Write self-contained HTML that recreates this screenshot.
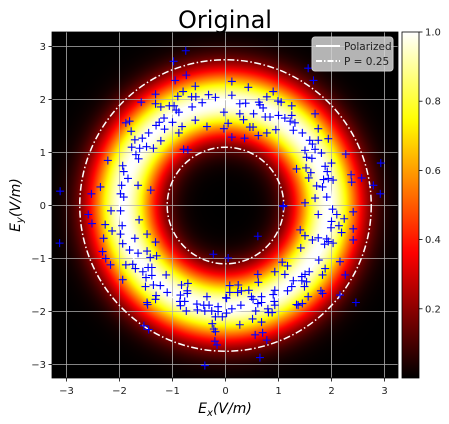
<!DOCTYPE html>
<html><head><meta charset="utf-8"><style>
body{margin:0;background:#fff;width:449px;height:424px;overflow:hidden}
svg{display:block;font-family:"DejaVu Sans","Liberation Sans",sans-serif}
</style></head><body>
<svg id="chart" width="449" height="424">
<defs>
<radialGradient id="ring" gradientUnits="userSpaceOnUse" cx="225.5" cy="205.5" r="265"></radialGradient>
<linearGradient id="cbar" x1="0" y1="1" x2="0" y2="0"></linearGradient>
<clipPath id="axclip"><rect x="52" y="32" width="346" height="346"/></clipPath>
</defs>
<text x="225" y="28" text-anchor="middle" font-size="24" fill="#000">Original</text>
<g id="plot" clip-path="url(#axclip)">
<rect x="52" y="32" width="346" height="346" fill="url(#ring)"/>
</g>
<g id="axes"></g>
<g>
<rect x="312" y="37" width="81" height="34" rx="3" fill="#d4d4d4" fill-opacity="0.85" stroke="#ccc"/>
<line x1="316" y1="46" x2="340" y2="46" stroke="#fff" stroke-width="2"/>
<text x="344" y="50" font-size="10.5" fill="#222">Polarized</text>
<line x1="316" y1="61" x2="340" y2="61" stroke="#fff" stroke-width="2" stroke-dasharray="6,2,1.5,2"/>
<text x="344" y="65" font-size="10.5" fill="#222">P = 0.25</text>
</g>
<rect x="402" y="32" width="17" height="346" fill="url(#cbar)" stroke="#000" stroke-width="0.8"/>
<g id="cbticks"></g>
<text x="225" y="413" text-anchor="middle" font-size="14" font-style="italic">E<tspan font-size="10" dy="3">x</tspan><tspan dy="-3">(V/m)</tspan></text>
<text transform="translate(20,205) rotate(-90)" text-anchor="middle" font-size="14" font-style="italic">E<tspan font-size="10" dy="3">y</tspan><tspan dy="-3">(V/m)</tspan></text>
</svg>
<script>
const ticks=[-3,-2,-1,0,1,2,3];
const cbTicks=[0.2,0.4,0.6,0.8,1.0];
const ringCenter=1.93, ringSigma=0.44;
const circleRadii=[2.0];
const dashRadii=[2.75,1.1];
const ptsX=[-0.75,-0.98,-0.74,-0.95,-0.57,-0.80,-0.90,-0.64,-0.56,-1.32,-1.59,-1.32,-1.22,-1.06,-0.97,-0.93,-0.88,-0.63,-0.44,-0.32,-0.19,-0.03,-0.03,-0.35,-0.57,-0.82,-0.88,-1.0,-1.16,-1.25,-1.31,-1.15,-1.45,-1.57,-1.71,-1.78,-1.88,-1.81,-1.22,-1.36,-1.49,-1.62,-1.77,-1.69,-1.64,-0.79,-0.71,-2.22,-1.94,-1.92,-1.84,-1.96,-1.65,-1.41,-2.36,-2.53,-3.12,-1.92,-1.98,
1.56,1.66,0.12,0.43,0.90,0.12,0.78,0.99,1.05,1.25,0.63,0.27,0.38,0.65,0.71,1.69,0.27,0.53,0.75,0.84,1.0,1.12,1.25,0.34,0.05,0.46,0.52,1.22,1.31,1.28,0.95,0.78,0.62,0.12,0.36,1.45,1.75,1.94,1.59,1.75,1.64,1.50,1.69,1.81,1.53,1.63,2.27,2.0,1.88,1.34,1.52,1.61,1.92,2.37,2.57,2.93,1.57,1.85,1.94,2.03,2.38,1.72,1.83,2.79,2.92,1.69,1.5,1.91,1.09,
-2.59,-2.52,-2.16,-1.98,-3.13,-2.30,-2.27,-2.14,-1.95,-1.63,-1.98,-1.94,-1.71,-1.48,-1.32,-1.81,-1.65,-1.48,-1.42,-1.30,-2.32,-2.26,-2.17,-1.88,-1.75,-1.70,-1.56,-1.46,-1.39,-1.94,-1.50,-1.39,-1.12,-1.23,-1.36,-1.51,-1.10,-1.31,-1.32,-1.48,-1.47,-0.83,-0.71,-0.72,-0.85,-0.72,-0.86,-0.77,-0.74,-0.85,-0.54,-0.53,-0.41,-0.31,-0.39,-0.26,-0.14,-0.14,-0.19,-0.06,0.01,-0.35,-0.25,-0.22,-0.19,-0.20,-0.16,-1.54,-1.45,-0.23,-0.39,
1.09,1.75,2.02,2.10,2.41,2.24,2.0,2.14,1.99,2.41,2.19,1.41,1.50,1.64,1.75,1.91,1.94,1.87,2.03,2.41,1.42,0.61,0.05,1.76,2.16,1.07,1.17,1.88,1.58,1.50,1.83,2.26,1.12,0.93,0.61,1.44,1.44,1.53,1.49,1.28,1.25,0.62,0.08,0.24,0.08,0.23,0.30,0.44,0.93,0.90,1.17,1.80,1.83,1.56,2.16,0.49,0.52,0.68,0.61,0.68,0.02,0.92,0.93,0.29,2.46,0.12,0.02,0.80,0.81,0.88,0.57,1.34,1.37,1.45,0.51,0.68,0.27,0.56,0.70,0.78,0.65];
const ptsY=[2.92,2.72,2.46,2.36,2.25,2.15,2.06,2.05,2.05,2.1,1.95,1.92,1.86,1.88,1.88,1.80,1.76,1.86,1.94,2.09,2.04,1.76,1.45,1.49,1.61,1.49,1.37,1.57,1.65,1.57,1.51,1.44,1.37,1.27,1.24,1.40,1.56,1.59,1.22,1.08,1.11,1.08,1.10,0.96,0.88,1.06,1.05,0.85,0.75,0.64,0.51,0.38,0.38,0.29,0.35,0.22,0.27,0.16,0.22,
2.59,2.36,2.34,2.23,2.15,2.08,2.05,1.97,1.95,1.88,1.95,1.92,1.93,1.90,1.84,1.73,1.73,1.73,1.67,1.67,1.70,1.65,1.70,1.62,1.55,1.48,1.48,1.59,1.56,1.42,1.43,1.37,1.32,1.29,1.27,1.37,1.45,1.26,1.23,1.23,1.16,1.04,1.06,0.99,0.91,0.89,0.97,0.8,0.74,0.69,0.71,0.62,0.64,0.58,0.52,0.80,0.52,0.49,0.51,0.48,0.44,0.37,0.35,0.38,0.22,0.14,0.05,0.16,0.0,
-0.17,-0.34,-0.10,-0.10,-0.71,-0.62,-0.36,-0.48,-0.38,-0.27,-0.54,-0.72,-0.62,-0.54,-0.69,-0.84,-0.90,-0.86,-0.98,-0.95,-0.87,-1.00,-1.12,-1.12,-1.11,-1.19,-1.25,-1.17,-1.17,-1.40,-1.36,-1.32,-1.31,-1.51,-1.50,-1.53,-1.64,-1.70,-1.77,-1.83,-1.87,-1.50,-1.47,-1.61,-1.69,-1.66,-1.81,-1.81,-1.99,-1.89,-1.86,-1.97,-1.88,-1.88,-1.99,-1.99,-1.91,-2.00,-2.10,-2.10,-1.74,-1.72,-2.23,-2.33,-2.38,-2.56,-2.63,-2.27,-2.34,-0.92,-3.02,
-0.02,-0.17,-0.07,-0.17,-0.12,-0.25,-0.30,-0.38,-0.42,-0.44,-0.51,-0.46,-0.57,-0.65,-0.61,-0.63,-0.68,-0.73,-0.71,-0.65,-0.80,-0.58,-0.99,-1.03,-1.06,-1.07,-1.14,-1.19,-1.25,-1.30,-1.31,-1.31,-1.30,-1.25,-1.30,-1.34,-1.42,-1.44,-1.53,-1.42,-1.53,-1.45,-1.51,-1.50,-1.64,-1.64,-1.61,-1.60,-1.60,-1.68,-1.61,-1.61,-1.66,-1.72,-1.69,-1.72,-1.77,-1.72,-1.85,-1.83,-1.75,-1.81,-1.88,-1.88,-1.83,-1.95,-2.03,-1.95,-2.02,-2.02,-1.99,-1.87,-1.88,-1.85,-2.14,-2.20,-2.25,-2.44,-2.40,-2.54,-2.87];

const NS='http://www.w3.org/2000/svg';
const X0=225.5,Y0=205.5,S=53;
const sx=v=>X0+v*S, sy=v=>Y0-v*S;
function mk(tag,attrs,parent){const e=document.createElementNS(NS,tag);for(const k in attrs)e.setAttribute(k,attrs[k]);parent.appendChild(e);return e;}
function hot(x){const r=Math.min(1,Math.max(0,x/0.365)),g=Math.min(1,Math.max(0,(x-0.365)/0.381)),b=Math.min(1,Math.max(0,(x-0.746)/0.254));return `rgb(${Math.round(r*255)},${Math.round(g*255)},${Math.round(b*255)})`;}
const ring=document.getElementById('ring');
for(let i=0;i<=200;i++){const t=i/200,rr=t*5;const v=Math.exp(-Math.pow(rr-ringCenter,2)/(2*ringSigma*ringSigma));mk('stop',{offset:t,'stop-color':hot(v)},ring);}
const cb=document.getElementById('cbar');
for(let i=0;i<=50;i++){const t=i/50;mk('stop',{offset:t,'stop-color':hot(t)},cb);}
const plot=document.getElementById('plot');
ticks.forEach(t=>{
 const gx=mk('line',{x1:sx(t),x2:sx(t),y1:32,y2:378,stroke:'#b0b0b0','stroke-width':0.8},plot);
 
 
 const gy=mk('line',{x1:52,x2:398,y1:sy(t),y2:sy(t),stroke:'#b0b0b0','stroke-width':0.8},plot);
 
 
});
circleRadii.forEach(r=>{const c=mk('circle',{cx:sx(0),cy:sy(0),r:r*S,fill:'none',stroke:'#fff','stroke-width':1.5},plot);
 
 });
dashRadii.forEach(r=>{const c=mk('circle',{cx:sx(0),cy:sy(0),r:r*S,fill:'none',stroke:'#fff','stroke-width':1.5,'stroke-dasharray':'7,2.5,1.5,2.5'},plot);
 
 });
for(let i=0;i<ptsX.length;i++){const x=sx(ptsX[i]),y=sy(ptsY[i]);
 const p=mk('path',{d:`M${x-4},${y}H${x+4}M${x},${y-4}V${y+4}`,stroke:'#0000ff','stroke-width':1.1},plot);
 
 }
const ax=document.getElementById('axes');
mk('rect',{x:52,y:32,width:346,height:346,fill:'none',stroke:'#000','stroke-width':0.8},ax);
ticks.forEach(t=>{
 mk('line',{x1:sx(t),x2:sx(t),y1:378,y2:381.5,stroke:'#000','stroke-width':0.8},ax);
 const lx=mk('text',{x:sx(t),y:394,'text-anchor':'middle','font-size':10,fill:'#222'},ax);
 lx.textContent=(t<0?'\u2212'+(-t):t);
 
 
 mk('line',{x1:48.5,x2:52,y1:sy(t),y2:sy(t),stroke:'#000','stroke-width':0.8},ax);
 const ly=mk('text',{x:46,y:sy(t)+3.5,'text-anchor':'end','font-size':10,fill:'#222'},ax);
 ly.textContent=(t<0?'\u2212'+(-t):t);
 
 
});
const cbt=document.getElementById('cbticks');
cbTicks.forEach(v=>{const y=378-v*346;
 mk('line',{x1:419,x2:422.5,y1:y,y2:y,stroke:'#000','stroke-width':0.8},cbt);
 const t=mk('text',{x:425,y:y+3.5,'font-size':10,fill:'#222'},cbt);
 t.textContent=v.toFixed(1);
 
 });
</script>
</body></html>
